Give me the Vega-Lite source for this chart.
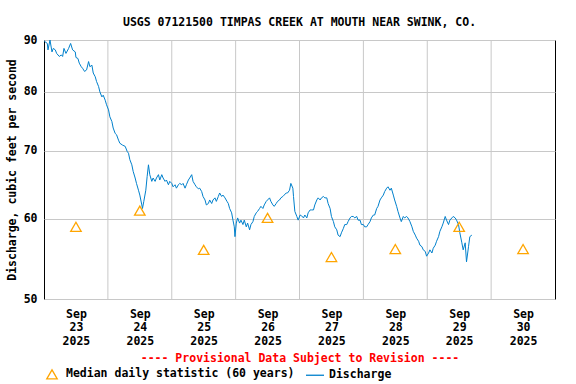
{
  "$schema": "https://vega.github.io/schema/vega-lite/v6.json",
  "autosize": "none",
  "width": 511,
  "height": 259,
  "padding": {"left": 44, "top": 40, "right": 21, "bottom": 85},
  "background": "white",
  "title": {"text": "USGS 07121500 TIMPAS CREEK AT MOUTH NEAR SWINK, CO.", "font": "DejaVu Sans Mono", "fontWeight": "bold", "fontSize": 11.5, "color": "black", "offset": -5, "anchor": "middle", "baseline": "bottom"},
  "config": {"view": {"stroke": "black", "strokeWidth": 1}, "font": "DejaVu Sans Mono"},
  "datasets": {
    "g": [{"t": "2025-09-24T00:00"}, {"t": "2025-09-25T00:00"}, {"t": "2025-09-26T00:00"}, {"t": "2025-09-27T00:00"}, {"t": "2025-09-28T00:00"}, {"t": "2025-09-29T00:00"}, {"t": "2025-09-30T00:00"}],
    "m": [
      {"t": "2025-09-23T12:00", "v": 58.9},
      {"t": "2025-09-24T12:00", "v": 61.1},
      {"t": "2025-09-25T12:00", "v": 55.9},
      {"t": "2025-09-26T12:00", "v": 60.1},
      {"t": "2025-09-27T12:00", "v": 55.0},
      {"t": "2025-09-28T12:00", "v": 56.0},
      {"t": "2025-09-29T12:00", "v": 58.9},
      {"t": "2025-09-30T12:00", "v": 56.0}
    ],
    "q": [
      {"t": "2025-09-23T00:00", "v": 89.8}, {"t": "2025-09-23T00:15", "v": 89.7}, {"t": "2025-09-23T01:15", "v": 89.3}, {"t": "2025-09-23T01:30", "v": 88.0},
      {"t": "2025-09-23T02:15", "v": 90.0}, {"t": "2025-09-23T03:00", "v": 87.6}, {"t": "2025-09-23T03:30", "v": 88.3}, {"t": "2025-09-23T04:15", "v": 88.0},
      {"t": "2025-09-23T04:45", "v": 87.3}, {"t": "2025-09-23T05:45", "v": 86.7}, {"t": "2025-09-23T06:30", "v": 87.0}, {"t": "2025-09-23T07:00", "v": 86.7},
      {"t": "2025-09-23T07:30", "v": 88.3}, {"t": "2025-09-23T08:15", "v": 87.3}, {"t": "2025-09-23T09:15", "v": 88.3}, {"t": "2025-09-23T10:00", "v": 89.3},
      {"t": "2025-09-23T10:45", "v": 88.0}, {"t": "2025-09-23T11:45", "v": 87.6}, {"t": "2025-09-23T12:00", "v": 86.5}, {"t": "2025-09-23T12:45", "v": 86.3},
      {"t": "2025-09-23T13:15", "v": 85.4}, {"t": "2025-09-23T14:00", "v": 84.7}, {"t": "2025-09-23T14:30", "v": 84.4}, {"t": "2025-09-23T15:15", "v": 83.8},
      {"t": "2025-09-23T16:00", "v": 84.1}, {"t": "2025-09-23T16:45", "v": 85.7}, {"t": "2025-09-23T17:15", "v": 84.7}, {"t": "2025-09-23T18:00", "v": 85.0},
      {"t": "2025-09-23T18:30", "v": 83.5}, {"t": "2025-09-23T19:15", "v": 82.8}, {"t": "2025-09-23T19:45", "v": 81.9}, {"t": "2025-09-23T20:30", "v": 81.0},
      {"t": "2025-09-23T21:00", "v": 80.0}, {"t": "2025-09-23T21:45", "v": 79.1}, {"t": "2025-09-23T22:15", "v": 79.4}, {"t": "2025-09-23T23:00", "v": 78.5},
      {"t": "2025-09-23T23:30", "v": 77.7},
      {"t": "2025-09-24T00:15", "v": 76.8}, {"t": "2025-09-24T00:45", "v": 75.6}, {"t": "2025-09-24T01:30", "v": 74.8}, {"t": "2025-09-24T02:00", "v": 73.7},
      {"t": "2025-09-24T02:45", "v": 72.8}, {"t": "2025-09-24T03:15", "v": 72.6}, {"t": "2025-09-24T04:00", "v": 71.7}, {"t": "2025-09-24T04:30", "v": 71.2},
      {"t": "2025-09-24T05:30", "v": 70.9}, {"t": "2025-09-24T06:30", "v": 70.7}, {"t": "2025-09-24T07:15", "v": 69.9}, {"t": "2025-09-24T07:45", "v": 69.6},
      {"t": "2025-09-24T08:15", "v": 68.6}, {"t": "2025-09-24T09:00", "v": 67.8}, {"t": "2025-09-24T09:30", "v": 66.8}, {"t": "2025-09-24T10:15", "v": 65.8},
      {"t": "2025-09-24T10:45", "v": 65.0}, {"t": "2025-09-24T11:30", "v": 64.0}, {"t": "2025-09-24T12:00", "v": 63.3}, {"t": "2025-09-24T12:45", "v": 61.9},
      {"t": "2025-09-24T13:00", "v": 61.4}, {"t": "2025-09-24T13:30", "v": 62.4}, {"t": "2025-09-24T14:15", "v": 64.0}, {"t": "2025-09-24T14:45", "v": 66.0},
      {"t": "2025-09-24T15:15", "v": 67.8}, {"t": "2025-09-24T15:45", "v": 66.3}, {"t": "2025-09-24T16:30", "v": 65.3}, {"t": "2025-09-24T17:00", "v": 65.8},
      {"t": "2025-09-24T17:45", "v": 65.3}, {"t": "2025-09-24T18:15", "v": 65.8}, {"t": "2025-09-24T19:00", "v": 66.3}, {"t": "2025-09-24T19:30", "v": 65.5},
      {"t": "2025-09-24T20:15", "v": 66.3}, {"t": "2025-09-24T20:45", "v": 65.8}, {"t": "2025-09-24T21:30", "v": 65.3}, {"t": "2025-09-24T22:00", "v": 65.5},
      {"t": "2025-09-24T22:45", "v": 64.8}, {"t": "2025-09-24T23:15", "v": 65.3},
      {"t": "2025-09-25T00:00", "v": 65.0}, {"t": "2025-09-25T00:30", "v": 64.5}, {"t": "2025-09-25T01:15", "v": 64.8}, {"t": "2025-09-25T01:45", "v": 64.3},
      {"t": "2025-09-25T02:30", "v": 64.8}, {"t": "2025-09-25T03:00", "v": 65.0}, {"t": "2025-09-25T03:45", "v": 64.8}, {"t": "2025-09-25T04:15", "v": 65.0},
      {"t": "2025-09-25T05:00", "v": 64.3}, {"t": "2025-09-25T05:30", "v": 64.8}, {"t": "2025-09-25T06:15", "v": 65.5}, {"t": "2025-09-25T06:45", "v": 65.8},
      {"t": "2025-09-25T07:30", "v": 66.3}, {"t": "2025-09-25T08:00", "v": 65.3}, {"t": "2025-09-25T08:45", "v": 64.8}, {"t": "2025-09-25T09:15", "v": 64.5},
      {"t": "2025-09-25T10:00", "v": 64.2}, {"t": "2025-09-25T10:30", "v": 64.3}, {"t": "2025-09-25T11:15", "v": 63.8}, {"t": "2025-09-25T11:45", "v": 63.1},
      {"t": "2025-09-25T12:30", "v": 62.6}, {"t": "2025-09-25T13:00", "v": 61.9}, {"t": "2025-09-25T13:45", "v": 62.1}, {"t": "2025-09-25T14:15", "v": 62.6},
      {"t": "2025-09-25T15:00", "v": 62.1}, {"t": "2025-09-25T15:30", "v": 62.6}, {"t": "2025-09-25T16:15", "v": 62.9}, {"t": "2025-09-25T16:45", "v": 62.4},
      {"t": "2025-09-25T17:30", "v": 63.1}, {"t": "2025-09-25T18:00", "v": 63.6}, {"t": "2025-09-25T18:45", "v": 63.1}, {"t": "2025-09-25T19:15", "v": 63.3},
      {"t": "2025-09-25T20:00", "v": 62.9}, {"t": "2025-09-25T20:45", "v": 62.4}, {"t": "2025-09-25T21:15", "v": 62.1}, {"t": "2025-09-25T21:45", "v": 61.4},
      {"t": "2025-09-25T22:30", "v": 60.8}, {"t": "2025-09-25T23:00", "v": 59.8}, {"t": "2025-09-25T23:30", "v": 58.9}, {"t": "2025-09-25T23:45", "v": 57.6},
      {"t": "2025-09-26T00:15", "v": 59.4}, {"t": "2025-09-26T00:45", "v": 60.1}, {"t": "2025-09-26T01:30", "v": 59.4}, {"t": "2025-09-26T02:00", "v": 59.8},
      {"t": "2025-09-26T02:45", "v": 59.2}, {"t": "2025-09-26T03:15", "v": 59.8}, {"t": "2025-09-26T04:00", "v": 58.9}, {"t": "2025-09-26T04:30", "v": 59.4},
      {"t": "2025-09-26T05:15", "v": 58.5}, {"t": "2025-09-26T05:45", "v": 59.2}, {"t": "2025-09-26T06:30", "v": 59.6}, {"t": "2025-09-26T07:00", "v": 60.3},
      {"t": "2025-09-26T07:45", "v": 60.8}, {"t": "2025-09-26T08:15", "v": 61.0}, {"t": "2025-09-26T09:00", "v": 61.4}, {"t": "2025-09-26T09:30", "v": 61.7},
      {"t": "2025-09-26T10:15", "v": 61.4}, {"t": "2025-09-26T10:45", "v": 61.9}, {"t": "2025-09-26T11:30", "v": 62.4}, {"t": "2025-09-26T12:00", "v": 62.6},
      {"t": "2025-09-26T12:45", "v": 62.9}, {"t": "2025-09-26T13:15", "v": 62.4}, {"t": "2025-09-26T14:00", "v": 61.9}, {"t": "2025-09-26T14:30", "v": 61.7},
      {"t": "2025-09-26T15:15", "v": 62.1}, {"t": "2025-09-26T15:45", "v": 62.4}, {"t": "2025-09-26T16:30", "v": 62.6}, {"t": "2025-09-26T17:00", "v": 62.9},
      {"t": "2025-09-26T17:45", "v": 63.1}, {"t": "2025-09-26T18:15", "v": 63.3}, {"t": "2025-09-26T19:00", "v": 63.6}, {"t": "2025-09-26T19:30", "v": 63.6},
      {"t": "2025-09-26T20:15", "v": 64.0}, {"t": "2025-09-26T20:45", "v": 65.0}, {"t": "2025-09-26T21:30", "v": 64.3}, {"t": "2025-09-26T21:45", "v": 63.1},
      {"t": "2025-09-26T22:15", "v": 61.0}, {"t": "2025-09-26T23:00", "v": 60.3}, {"t": "2025-09-26T23:30", "v": 59.8},
      {"t": "2025-09-27T00:15", "v": 60.5}, {"t": "2025-09-27T00:45", "v": 60.4}, {"t": "2025-09-27T01:30", "v": 60.1}, {"t": "2025-09-27T02:00", "v": 60.5},
      {"t": "2025-09-27T02:45", "v": 60.1}, {"t": "2025-09-27T03:15", "v": 60.8}, {"t": "2025-09-27T04:00", "v": 61.2}, {"t": "2025-09-27T04:30", "v": 61.2},
      {"t": "2025-09-27T05:15", "v": 61.2}, {"t": "2025-09-27T05:45", "v": 61.9}, {"t": "2025-09-27T06:30", "v": 62.6}, {"t": "2025-09-27T07:00", "v": 62.9},
      {"t": "2025-09-27T07:45", "v": 62.6}, {"t": "2025-09-27T08:15", "v": 62.9}, {"t": "2025-09-27T09:00", "v": 63.1}, {"t": "2025-09-27T09:30", "v": 62.9},
      {"t": "2025-09-27T10:15", "v": 62.9}, {"t": "2025-09-27T10:45", "v": 62.1}, {"t": "2025-09-27T11:30", "v": 61.4}, {"t": "2025-09-27T12:00", "v": 60.3},
      {"t": "2025-09-27T12:45", "v": 59.6}, {"t": "2025-09-27T13:15", "v": 58.9}, {"t": "2025-09-27T14:00", "v": 58.5}, {"t": "2025-09-27T14:30", "v": 57.8},
      {"t": "2025-09-27T15:15", "v": 57.6}, {"t": "2025-09-27T15:45", "v": 58.1}, {"t": "2025-09-27T16:30", "v": 58.7}, {"t": "2025-09-27T17:00", "v": 59.2},
      {"t": "2025-09-27T17:45", "v": 59.2}, {"t": "2025-09-27T18:15", "v": 59.6}, {"t": "2025-09-27T19:00", "v": 60.1}, {"t": "2025-09-27T19:30", "v": 60.3},
      {"t": "2025-09-27T20:15", "v": 60.3}, {"t": "2025-09-27T20:45", "v": 60.1}, {"t": "2025-09-27T21:30", "v": 60.3}, {"t": "2025-09-27T22:00", "v": 59.8},
      {"t": "2025-09-27T22:45", "v": 59.8}, {"t": "2025-09-27T23:15", "v": 59.2},
      {"t": "2025-09-28T00:00", "v": 59.2}, {"t": "2025-09-28T00:30", "v": 58.9}, {"t": "2025-09-28T01:15", "v": 58.9}, {"t": "2025-09-28T01:45", "v": 59.2},
      {"t": "2025-09-28T02:30", "v": 59.6}, {"t": "2025-09-28T03:00", "v": 60.1}, {"t": "2025-09-28T03:45", "v": 60.5}, {"t": "2025-09-28T04:15", "v": 60.5},
      {"t": "2025-09-28T05:00", "v": 61.4}, {"t": "2025-09-28T05:30", "v": 61.7}, {"t": "2025-09-28T06:15", "v": 62.6}, {"t": "2025-09-28T06:45", "v": 62.9},
      {"t": "2025-09-28T07:30", "v": 63.3}, {"t": "2025-09-28T08:00", "v": 63.8}, {"t": "2025-09-28T08:45", "v": 64.3}, {"t": "2025-09-28T09:15", "v": 64.5},
      {"t": "2025-09-28T10:00", "v": 64.0}, {"t": "2025-09-28T10:30", "v": 64.3}, {"t": "2025-09-28T11:15", "v": 63.3}, {"t": "2025-09-28T11:45", "v": 62.6},
      {"t": "2025-09-28T12:30", "v": 61.7}, {"t": "2025-09-28T13:00", "v": 61.0}, {"t": "2025-09-28T13:45", "v": 60.1}, {"t": "2025-09-28T14:15", "v": 59.6},
      {"t": "2025-09-28T15:00", "v": 60.3}, {"t": "2025-09-28T15:30", "v": 60.1}, {"t": "2025-09-28T16:15", "v": 60.3}, {"t": "2025-09-28T16:45", "v": 60.1},
      {"t": "2025-09-28T17:30", "v": 59.6}, {"t": "2025-09-28T18:15", "v": 58.9}, {"t": "2025-09-28T18:45", "v": 58.3}, {"t": "2025-09-28T19:30", "v": 57.8},
      {"t": "2025-09-28T20:00", "v": 57.4}, {"t": "2025-09-28T20:45", "v": 57.0}, {"t": "2025-09-28T21:15", "v": 56.5}, {"t": "2025-09-28T22:00", "v": 56.3},
      {"t": "2025-09-28T22:30", "v": 55.9}, {"t": "2025-09-28T23:15", "v": 55.7}, {"t": "2025-09-28T23:45", "v": 55.1},
      {"t": "2025-09-29T00:30", "v": 55.5}, {"t": "2025-09-29T01:00", "v": 55.9}, {"t": "2025-09-29T01:45", "v": 55.5}, {"t": "2025-09-29T02:15", "v": 56.1},
      {"t": "2025-09-29T03:00", "v": 56.5}, {"t": "2025-09-29T03:30", "v": 57.0}, {"t": "2025-09-29T04:15", "v": 57.6}, {"t": "2025-09-29T04:45", "v": 58.3},
      {"t": "2025-09-29T05:30", "v": 58.9}, {"t": "2025-09-29T06:00", "v": 59.4}, {"t": "2025-09-29T06:45", "v": 60.3}, {"t": "2025-09-29T07:15", "v": 59.8},
      {"t": "2025-09-29T08:00", "v": 59.2}, {"t": "2025-09-29T08:30", "v": 59.8}, {"t": "2025-09-29T09:15", "v": 60.1}, {"t": "2025-09-29T09:45", "v": 60.3},
      {"t": "2025-09-29T10:30", "v": 60.1}, {"t": "2025-09-29T11:00", "v": 59.8}, {"t": "2025-09-29T11:45", "v": 59.2}, {"t": "2025-09-29T12:15", "v": 58.1},
      {"t": "2025-09-29T13:00", "v": 56.8}, {"t": "2025-09-29T13:30", "v": 55.9}, {"t": "2025-09-29T14:15", "v": 56.8}, {"t": "2025-09-29T14:45", "v": 54.4},
      {"t": "2025-09-29T15:30", "v": 56.3}, {"t": "2025-09-29T16:00", "v": 57.6}, {"t": "2025-09-29T16:45", "v": 57.8}
    ]
  },
  "layer": [
    {
      "data": {"name": "g"},
      "mark": {"type": "rule", "color": "#c8c8c8", "strokeWidth": 1},
      "encoding": {
        "x": {
          "field": "t", "type": "temporal",
          "scale": {"domain": [{"year": 2025, "month": 9, "date": 23, "hours": 0}, {"year": 2025, "month": 10, "date": 1, "hours": 0}]},
          "axis": {
            "values": [
              {"year": 2025, "month": 9, "date": 23, "hours": 12}, {"year": 2025, "month": 9, "date": 24, "hours": 12},
              {"year": 2025, "month": 9, "date": 25, "hours": 12}, {"year": 2025, "month": 9, "date": 26, "hours": 12},
              {"year": 2025, "month": 9, "date": 27, "hours": 12}, {"year": 2025, "month": 9, "date": 28, "hours": 12},
              {"year": 2025, "month": 9, "date": 29, "hours": 12}, {"year": 2025, "month": 9, "date": 30, "hours": 12}
            ],
            "labelExpr": "[timeFormat(datum.value, '%b'), timeFormat(datum.value, '%d'), timeFormat(datum.value, '%Y')]",
            "ticks": false, "grid": false, "domain": false,
            "labelFont": "DejaVu Sans Mono", "labelFontWeight": "bold", "labelFontSize": 11.5, "labelColor": "black",
            "labelLineHeight": 13.5, "labelPadding": 9, "labelFlush": false, "labelOverlap": false, "labelAngle": 0,
            "title": "---- Provisional Data Subject to Revision ----",
            "titleFont": "DejaVu Sans Mono", "titleFontWeight": "bold", "titleFontSize": 11.5, "titleColor": "#FF0000", "titlePadding": 6
          }
        }
      }
    },
    {
      "data": {"name": "q"},
      "mark": {"type": "line", "strokeWidth": 1, "clip": true},
      "encoding": {
        "x": {"field": "t", "type": "temporal"},
        "y": {
          "field": "v", "type": "quantitative",
          "scale": {"type": "log", "domain": [50, 90], "nice": false},
          "axis": {
            "values": [50, 60, 70, 80, 90], "grid": true, "gridColor": "#c8c8c8", "ticks": false, "domain": false,
            "labelFont": "DejaVu Sans Mono", "labelFontWeight": "bold", "labelFontSize": 11.5, "labelColor": "black", "labelPadding": 7, "labelFlush": false,
            "title": "Discharge, cubic feet per second",
            "titleFont": "DejaVu Sans Mono", "titleFontWeight": "bold", "titleFontSize": 11.5, "titleColor": "black", "titlePadding": 6
          }
        },
        "color": {
          "datum": "Discharge",
          "scale": {"domain": ["Median daily statistic (60 years)", "Discharge"], "range": ["#FFA500", "#0080CC"]},
          "legend": {
            "orient": "none", "legendX": 2, "legendY": 328, "direction": "horizontal", "columns": 2, "title": null,
            "labelFont": "DejaVu Sans Mono", "labelFontWeight": "bold", "labelFontSize": 11.5, "labelColor": "black", "labelLimit": 400,
            "symbolSize": 196, "labelOffset": 8, "columnPadding": 8,
            "encode": {
              "symbols": {
                "update": {
                  "shape": {"signal": "datum.value === 'Discharge' ? 'stroke' : 'triangle-up'"},
                  "size": {"signal": "datum.value === 'Discharge' ? 324 : 110"},
                  "fill": {"value": "transparent"},
                  "stroke": {"signal": "datum.value === 'Discharge' ? '#0080CC' : '#FFA500'"},
                  "strokeWidth": {"value": 1.3}
                }
              }
            }
          }
        }
      }
    },
    {
      "data": {"name": "m"},
      "mark": {"type": "point", "shape": "triangle-up", "filled": false, "size": 110, "strokeWidth": 1.3, "opacity": 1},
      "encoding": {
        "x": {"field": "t", "type": "temporal"},
        "y": {"field": "v", "type": "quantitative"},
        "color": {"datum": "Median daily statistic (60 years)"}
      }
    }
  ]
}
